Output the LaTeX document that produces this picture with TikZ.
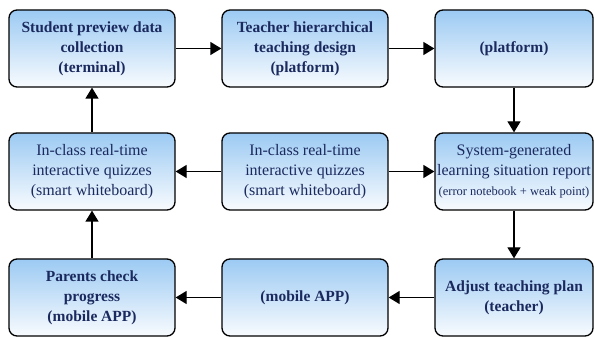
\documentclass[tikz,border=0pt]{standalone}
\usepackage{fontspec}
\setmainfont{Liberation Serif}
\usepackage{xcolor}
\usetikzlibrary{arrows.meta}
\definecolor{stepBlue}{HTML}{9CCAF3}
\definecolor{stepMid}{HTML}{D6EAFA}
\definecolor{stepWhite}{HTML}{F8FBFE}
\definecolor{stepNavy}{HTML}{1B2A5E}
\tikzset{
  stepbox/.style={rectangle, rounded corners=8pt, draw=black, line width=1.3pt, top color=stepBlue, middle color=stepMid, bottom color=stepWhite, align=center, text=stepNavy, minimum width=166pt, minimum height=77pt, inner sep=2pt, font=\fontsize{15.5}{20}\selectfont\bfseries},
  stepplain/.style={stepbox, font=\fontsize{16}{20}\selectfont},
  flowarrow/.style={-{Triangle[length=11pt,width=13pt]}, line width=1.3pt, draw=black},
}

\begin{document}
\begin{tikzpicture}[x=1pt,y=1pt]
  \useasboundingbox (0,0) rectangle (594,337);

  % Top row: preview and design
  \node[stepbox] (preview) at (92, 288.5) {Student preview data\\collection\\(terminal)};
  \node[stepbox] (design) at (305, 288.5) {Teacher hierarchical\\teaching design\\(platform)};
  \node[stepbox, minimum width=158pt] (platform) at (514, 288.5) {(platform)};

  % Middle row: quizzes and report
  \node[stepplain] (quizleft) at (92, 165.5) {In-class real-time\\interactive quizzes\\(smart whiteboard)};
  \node[stepplain] (quizmid) at (305, 165.5) {In-class real-time\\interactive quizzes\\(smart whiteboard)};
  \node[stepplain, minimum width=158pt] (report) at (514, 165.5) {System-generated\\learning situation report\\{\fontsize{12.5}{15}\selectfont(error notebook + weak point)}};

  % Bottom row: adjustment and parents
  \node[stepbox] (parents) at (92, 39.5) {Parents check\\progress\\(mobile APP)};
  \node[stepbox] (mobile) at (305, 39.5) {(mobile APP)};
  \node[stepbox, minimum width=158pt] (adjust) at (514, 39.5) {Adjust teaching plan\\(teacher)};

  % Connections
  \draw[flowarrow] (preview) -- (design);
  \draw[flowarrow] (design) -- (platform);
  \draw[flowarrow] (platform) -- (report);
  \draw[flowarrow] (quizmid) -- (report);
  \draw[flowarrow] (quizmid) -- (quizleft);
  \draw[flowarrow] (report) -- (adjust);
  \draw[flowarrow] (adjust) -- (mobile);
  \draw[flowarrow] (mobile) -- (parents);
  \draw[flowarrow] (parents) -- (quizleft);
  \draw[flowarrow] (quizleft) -- (preview);
\end{tikzpicture}
\end{document}
